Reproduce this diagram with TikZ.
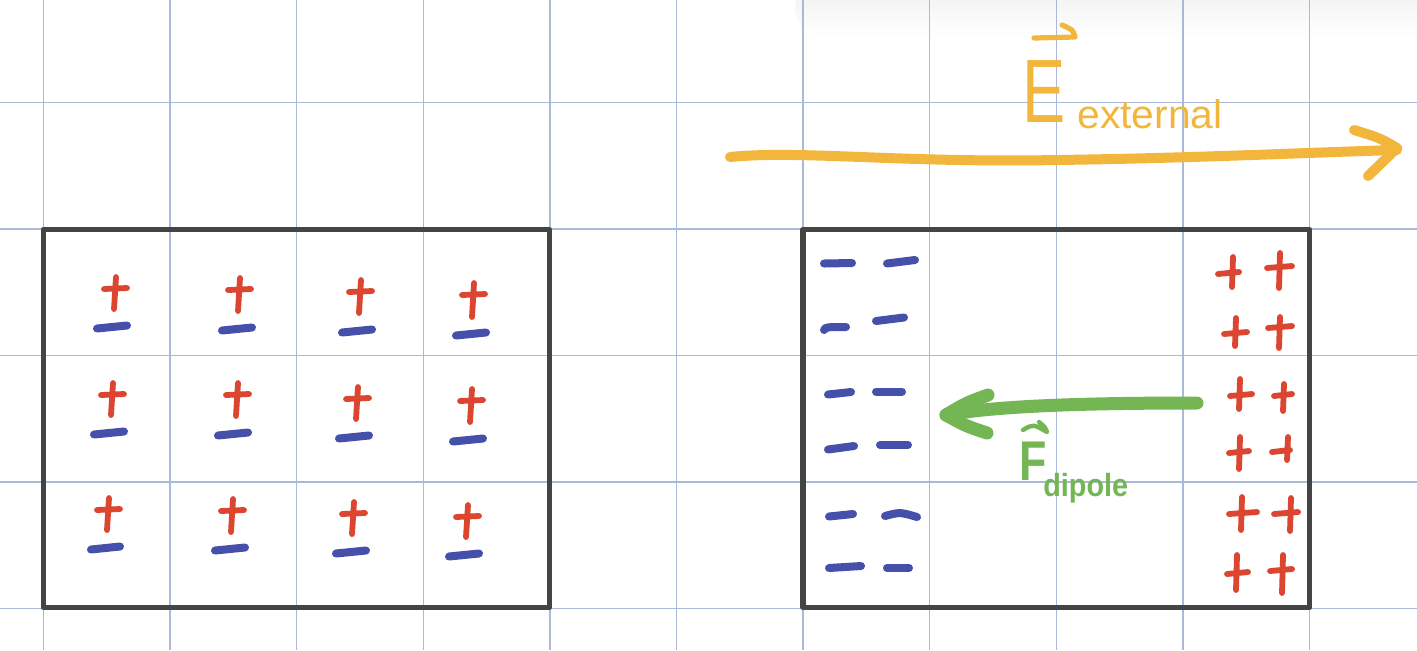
\documentclass[tikz,border=0pt]{standalone}
\usepackage{fontspec}
\setmainfont{Liberation Sans}
\usetikzlibrary{fadings}
\definecolor{gridc}{HTML}{A9B9D6}
\definecolor{boxc}{HTML}{444444}
\definecolor{redc}{HTML}{DC4530}
\definecolor{bluec}{HTML}{4450AA}
\definecolor{orangec}{HTML}{F3B63C}
\definecolor{greenc}{HTML}{74B653}
\tikzset{
  gridline/.style={draw=gridc,line width=0.75pt},
  boxst/.style={draw=boxc,line width=2.6pt,line join=round},
  plusst/.style={draw=redc,line width=2.9pt,line cap=round,line join=round},
  minusst/.style={draw=bluec,line width=4pt,line cap=round},
  earrow/.style={draw=orangec,line width=5pt,line cap=round,line join=round},
  farrow/.style={draw=greenc,line width=6.5pt,line cap=round,line join=round},
  elabel/.style={text=orangec,inner sep=0pt,anchor=base west},
  flabel/.style={text=greenc,inner sep=0pt,anchor=base west},
}
% plus with default bar: x, top, bottom
\newcommand\pplus[3]{\draw[plusst] (#1+1,#2) -- (#1-1,#3) (#1-11,#2+12) -- (#1+12,#2+11);}
% plus with explicit bar: x, top, bottom, barleft, barright, bary
\newcommand\qplus[6]{\draw[plusst] (#1+1,#2) -- (#1,#3) (#4,#6+1) -- (#5,#6-1);}
% minus: x1, x2, y
\newcommand\mminus[3]{\draw[minusst] (#1,#3+1.5) -- (#2,#3-1.5);}
\begin{document}
\begin{tikzpicture}[x=0.5pt,y=-0.5pt]
\useasboundingbox (0,0) rectangle (1417,650);
\fill[white] (0,0) rectangle (1417,650);
% faint shadow top right
\fill[black!6,path fading=south,rounded corners=14pt] (795,-20) rectangle (1440,36);
% grid
\foreach \gx in {43.5,170.1,296.7,423.3,549.9,676.5,803.1,929.7,1056.3,1182.9,1309.5}
  \draw[gridline] (\gx,0) -- (\gx,650);
\foreach \gy in {102.5,229,355.5,482,608.5}
  \draw[gridline] (0,\gy) -- (1417,\gy);
% boxes
\draw[boxst] (43.5,229.5) rectangle (549.5,607.5);
\draw[boxst] (803,229.5) rectangle (1309.5,607.5);
% left box dipoles
\pplus{115}{277}{309} \mminus{97}{127}{327}
\pplus{239}{278}{311} \mminus{222}{252}{329}
\pplus{360}{280}{313} \mminus{342}{372}{331}
\pplus{473}{283}{317} \mminus{456}{486}{334}
\pplus{112}{383}{415} \mminus{94}{124}{433}
\pplus{237}{383}{416} \mminus{218}{248}{434}
\pplus{357}{387}{419} \mminus{339}{369}{437}
\pplus{471}{389}{422} \mminus{453}{483}{440}
\pplus{108}{498}{530} \mminus{91}{120}{548}
\pplus{232}{499}{532} \mminus{215}{245}{549}
\pplus{353}{502}{534} \mminus{336}{366}{552}
\pplus{467}{505}{537} \mminus{449}{479}{555}
% right box negative charges
\draw[minusst] (824,263.5) -- (852,263);
\draw[minusst] (887,263.5) -- (915,260);
\draw[minusst] (824,330) .. controls (826,327) .. (846,327);
\draw[minusst] (876,321) -- (904,317.5);
\draw[minusst] (828,394.5) -- (851,392);
\draw[minusst] (876,391.5) -- (902,391.5);
\draw[minusst] (828,449.5) -- (854,446);
\draw[minusst] (880,445) -- (908,445);
\draw[minusst] (829,516.5) -- (853,514);
\draw[minusst] (885,516) .. controls (900,512) .. (917,517);
\draw[minusst] (829,568) -- (861,566);
\draw[minusst] (887,568) -- (909,568);
% right box positive charges
\qplus{1232}{257}{287}{1218}{1239}{273}
\qplus{1279}{253}{288}{1267}{1292}{267}
\qplus{1235}{318}{346}{1224}{1247}{333}
\qplus{1279}{317}{348}{1268}{1292}{327}
\qplus{1239}{379}{409}{1230}{1252}{395}
\qplus{1283}{384}{411}{1274}{1292}{395}
\qplus{1239}{437}{469}{1229}{1249}{452}
\qplus{1287}{437}{460}{1272}{1290}{451}
\qplus{1241}{497}{530}{1229}{1257}{513}
\qplus{1290}{498}{531}{1274}{1298}{513}
\qplus{1236}{555}{590}{1227}{1248}{573}
\qplus{1282}{555}{593}{1270}{1292}{570}
% external field arrow
\draw[earrow] (730,157) .. controls (800,150) and (900,163) .. (1057,160)
  .. controls (1200,158) and (1320,152) .. (1397,150);
\draw[earrow] (1354,130) .. controls (1380,138) .. (1397,148) -- (1368,176);
\node[elabel,xscale=0.72,font=\fontsize{45}{45}\selectfont] (E) at (1022,122) {E};
\draw[orangec,line width=2.6pt,line cap=round,line join=round]
  (1034,38) -- (1075,37) .. controls (1073,30) .. (1062,25);
\node[elabel,font=\fontsize{20}{20}\selectfont,xscale=1.02] (Esub) at (1077,128) {external};
% dipole force arrow
\draw[farrow] (1197,403) .. controls (1100,403) and (1000,405) .. (946,415);
\draw[farrow] (988,395) .. controls (966,403) .. (946,415) .. controls (966,426) .. (987,433);
\node[flabel,xscale=0.8,font=\bfseries\fontsize{28}{28}\selectfont] (F) at (1019,480) {F};
\draw[greenc,line width=2.2pt,line cap=round,line join=round]
  (1023,430) .. controls (1033,424) .. (1047,432) .. controls (1045,427) .. (1039,422);
\node[flabel,font=\bfseries\fontsize{16}{16}\selectfont,xscale=0.9] (Fsub) at (1043,496) {dipole};
\end{tikzpicture}
\end{document}
